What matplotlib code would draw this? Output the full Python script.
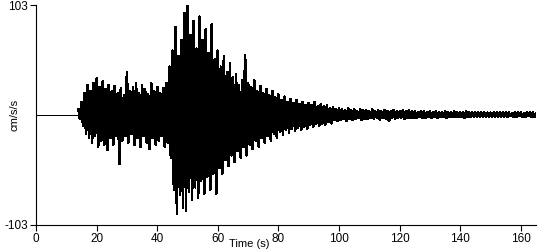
import numpy as np
import matplotlib.pyplot as plt

plt.rcParams['font.family'] = ['Liberation Sans', 'DejaVu Sans']

# quiet record before the event (s)
onset = 14

# peak envelopes, one value per second from t = 14 s to 165 s
upper = [5, 12, 20, 28, 22, 30, 34, 26, 31, 24, 28, 22, 27, 20, 25, 18, 40, 22, 26, 30,
         20, 28, 24, 19, 30, 22, 26, 20, 25, 30, 45, 60, 82, 55, 70, 95, 103, 75, 88, 62,
         92, 70, 80, 58, 85, 52, 60, 45, 55, 40, 48, 35, 38, 28, 32, 56, 30, 26, 32, 22,
         27, 20, 24, 18, 22, 16, 19, 14, 17, 12, 15, 11, 14, 10, 12, 9, 11, 9, 12, 8,
         10, 8, 9, 6, 7, 5, 6, 5, 4, 6, 4, 5, 3, 5, 4, 4, 3, 5, 3, 4,
         3, 4, 3, 3, 4, 3, 3, 4, 3, 4, 3, 3, 2, 3, 3, 2, 3, 2, 3, 2,
         2, 3, 2, 2, 3, 2, 2, 2, 3, 2, 2, 2, 2, 2, 2, 2, 2, 2, 2, 2,
         2, 2, 2, 1, 2, 2, 2, 1, 2, 2, 2, 1]
lower = [-4, -10, -18, -22, -26, -20, -30, -24, -28, -33, -22, -28, -20, -46, -24, -20, -26, -18, -28, -22,
         -30, -20, -26, -32, -22, -28, -24, -20, -30, -26, -40, -70, -93, -75, -87, -90, -72, -80, -68, -78,
         -62, -74, -58, -70, -55, -74, -50, -55, -42, -48, -38, -44, -34, -40, -30, -38, -28, -32, -24, -30,
         -22, -26, -20, -24, -18, -22, -16, -19, -14, -17, -13, -15, -12, -14, -11, -13, -9, -11, -8, -10,
         -8, -9, -7, -8, -5, -6, -5, -4, -6, -4, -5, -4, -3, -5, -4, -4, -3, -4, -3, -5,
         -3, -4, -6, -3, -4, -3, -3, -4, -3, -3, -3, -3, -2, -3, -3, -2, -3, -2, -3, -2,
         -2, -3, -2, -2, -2, -2, -2, -3, -2, -2, -2, -2, -2, -2, -2, -2, -2, -2, -2, -2,
         -2, -2, -1, -2, -2, -1, -2, -2, -1, -2, -2, -1]

y_lim = 103
x_ticks = [0, 20, 40, 60, 80, 100, 120, 140, 160]

# trace alternates between the read peaks, half a second apart
sec = onset + np.arange(len(upper))
t = np.column_stack([sec, sec + 0.5]).ravel()
a = np.column_stack([upper, lower]).ravel()

fig = plt.figure(figsize=(5.5, 2.5), dpi=100)
ax = fig.add_axes([0.0655, 0.102, 0.909, 0.878])
ax.plot([0, onset], [0, 0], color='black', lw=0.6, antialiased=False)
ax.plot(t, a, color='black', lw=1.2, antialiased=False)

ax.set_xlim(0, 165)
ax.set_ylim(-y_lim, y_lim)
ax.set_xticks(x_ticks)
ax.set_yticks([-y_lim, y_lim])
ax.set_yticklabels([str(-y_lim), str(y_lim)])
for s in ['top', 'right']:
    ax.spines[s].set_visible(False)
ax.tick_params(labelsize=8.5, length=4, width=0.8, pad=2)
ax.set_ylabel('cm/s/s', fontsize=8)
ax.yaxis.set_label_coords(-0.034, 0.5)
ax.set_xlabel('Time (s)', fontsize=8)
ax.xaxis.set_label_coords(0.426, -0.066)
ax.xaxis.label.set_va('top')

fig.savefig('out.png', dpi=100)
